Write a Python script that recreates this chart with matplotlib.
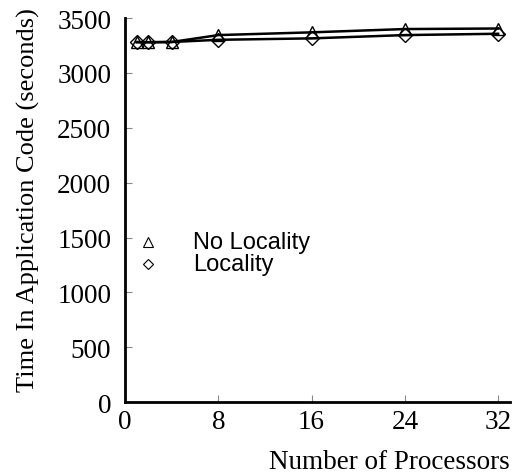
import numpy as np
import matplotlib
matplotlib.use("Agg")
import matplotlib.pyplot as plt

procs = [1, 2, 4, 8, 16, 24, 32]
no_locality = [3282, 3280, 3282, 3345, 3370, 3400, 3405]
locality = [3280, 3280, 3282, 3302, 3315, 3345, 3357]
series_names = ["No Locality", "Locality"]

serif = ["Liberation Serif", "DejaVu Serif"]
sans = ["Liberation Sans", "DejaVu Sans"]

fig = plt.figure(figsize=(5.13, 4.77), dpi=100)
ax = fig.add_axes([0.2437, 0.155, 0.75, 0.805])

ax.plot(procs, no_locality, color="black", lw=1.8, marker="^", ms=8,
        mfc="none", mec="black", mew=1.0, clip_on=False)
ax.plot(procs, locality, color="black", lw=1.8, marker="D", ms=7,
        mfc="none", mec="black", mew=1.0, clip_on=False)

ax.set_xlim(0, 33)
ax.set_ylim(0, 3500)
ax.set_xticks([0, 8, 16, 24, 32])
ax.set_yticks(np.arange(0, 3501, 500))
for s in ["top", "right"]:
    ax.spines[s].set_visible(False)
for s in ["left", "bottom"]:
    ax.spines[s].set_linewidth(2)
ax.tick_params(direction="in", length=5, width=0.8, color="#888888",
               labelsize=19.5)
ax.tick_params(axis="y", pad=10)
ax.tick_params(axis="x", pad=5)
for lab in ax.get_xticklabels() + ax.get_yticklabels():
    lab.set_family(serif)

ax.set_ylabel("Time In Application Code (seconds)", fontsize=19,
              family=serif)
ax.yaxis.set_label_coords(-0.222, 0.529)
fig.text(0.994, 0.03, "Number of Processors", fontsize=19.5, family=serif,
         ha="right", va="center")

# key drawn by hand: marker column and label column
key_marks = ["^", "D"]
key_sizes = [7, 5.5]
key_y = [0.4167, 0.359]
for mk, ms, yy, name in zip(key_marks, key_sizes, key_y, series_names):
    ax.plot([0.0597], [yy], ls="none", marker=mk, ms=ms, mfc="none",
            mec="black", mew=0.8, transform=ax.transAxes, clip_on=False)
    ax.text(0.1766, yy, name, transform=ax.transAxes, ha="left",
            va="center", fontsize=17, family=sans)

fig.savefig("out.png", dpi=100)
